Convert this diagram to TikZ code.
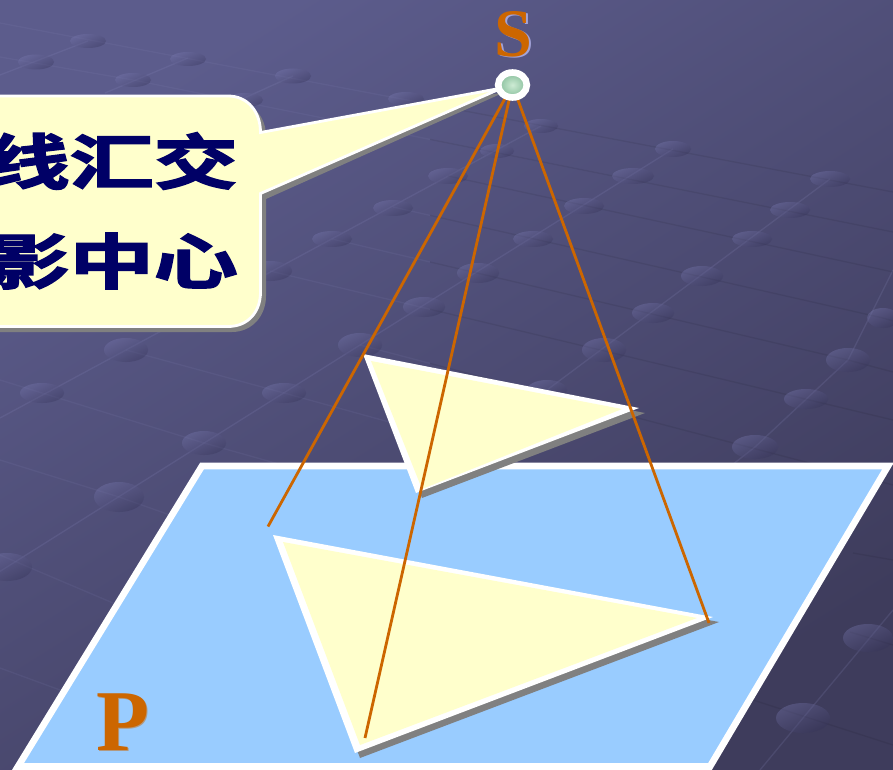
\documentclass[tikz,border=0pt]{standalone}
\usepackage{graphicx}
\usepackage{fontspec}
\usetikzlibrary{shapes.geometric}
\setmainfont{Liberation Serif}
\newfontfamily\cjk[UprightFont=* Bold,FakeBold=2.4]{Noto Sans CJK SC}
\definecolor{orangeline}{HTML}{CC6600}
\definecolor{paleyellow}{HTML}{FFFFCC}
\definecolor{planeblue}{HTML}{99CCFF}
\definecolor{shadowgray}{HTML}{808080}
\definecolor{navytext}{HTML}{000066}
\definecolor{dotlight}{HTML}{7C7CB4}
\definecolor{dotdark}{HTML}{323054}
\definecolor{diagline}{HTML}{8A8ABE}
\tikzset{
  bgdot/.style={top color=dotlight,bottom color=dotdark,shading angle=25,opacity=.36},
  diag/.style={draw=diagline,line width=1pt,opacity=.18},
  lighth/.style={draw=diagline,line width=1pt,opacity=.11},
  darkh/.style={draw=black,line width=1pt,opacity=.07},
  ray/.style={draw=orangeline,line width=2.1pt},
  edge/.style={draw=white,line width=5pt,miter limit=10},
  shadowshape/.style={fill=shadowgray,draw=none},
  lettermark/.style={font=\bfseries,text=orangeline,inner sep=0pt,anchor=center},
  cjkline/.style={font=\cjk\fontsize{45pt}{45pt}\selectfont,text=navytext,inner sep=0pt,anchor=east},
}
\begin{document}
\begin{tikzpicture}[x=0.75pt,y=-0.75pt]
\useasboundingbox (0,0) rectangle (893,770);
\clip (0,0) rectangle (893,770);
% background
\shade[top color={rgb,255:red,92;green,92;blue,140},bottom color={rgb,255:red,62;green,60;blue,92},shading angle=32] (0,0) rectangle (893,770);
% grid
\foreach \p in {
 {(0,75)--(88,41)},{(105,93)--(188,58)},{(240,100)--(293,76)},
 {(541,126)--(126,350)--(0,418)},{(673,149)--(360,345)--(7,567)--(-20,584)},
 {(830,179)--(547,390)--(500,425)},{(893,270)--(848,360)--(755,447)--(700,490)},
 {(893,610)--(803,718)--(760,770)}}{
   \draw[diag] \p;}
\begin{scope}
\clip (0,0) rectangle (430,770);
\foreach \p in {
 {(0,23)--(893,192)},{(0,57)--(133,80)--(893,232)},{(448,176)--(893,272)},{(393,207)--(883,318)},
 {(332,239)--(848,360)},{(270,271)--(893,420)},{(126,350)--(284,393)--(400,425)},{(360,345)--(893,485)},
 {(0,380)--(42,393)--(204,443)--(300,470)},{(0,460)--(119,497)--(170,515)},{(0,555)--(113,603)},{(0,668)--(60,690)}}{
   \draw[lighth] \p;}
\end{scope}
\begin{scope}
\clip (430,0) rectangle (893,770);
\foreach \p in {
 {(0,23)--(893,192)},{(0,57)--(133,80)--(893,232)},{(448,176)--(893,272)},{(393,207)--(883,318)--(893,321)},
 {(332,239)--(848,360)--(893,372)},{(270,271)--(893,420)},{(360,345)--(893,485)},
 {(853,553)--(893,560)},{(850,632)--(893,645)},{(753,700)--(893,745)}}{
   \draw[darkh] \p;}
\end{scope}
\foreach \x/\y/\rx/\ry in {
 88/41/18/7,36/62/18/7.5,188/59/18/7,133/80/18/7,293/76/18/7.5,406/99/18/7,
 245/100/18/7,
 541/126/17/7,497/151/17/7,448/176/20/8,393/208/20/8,332/239/20/8,270/271/22/10,
 126/350/22/12,42/393/22/10,
 673/149/18/8,633/176/21/8,584/206/20/8,533/239/20/8,478/273/21/10,424/307/21/10,360/345/22/12,
 284/393/22/10,204/443/22/12,119/497/25/15,7/567/25/14,
 830/179/20/8,790/210/20/8,752/239/20/8,702/276/21/10,653/313/21/10,604/350/22/12,547/390/20/10,
 883/318/16/10,848/360/22/12,806/399/22/10,755/447/23/12,
 868/638/25/14,803/718/27/15}{
   \shade[bgdot] (\x,\y) ellipse[x radius=\rx*0.75pt,y radius=\ry*0.75pt];
}
% callout
\path[shadowshape] (-30,101) -- (232,101) .. controls (252,101) and (266,116) .. (266,136)
  -- (505,92) -- (266,199) -- (266,296) .. controls (266,316) and (252,332) .. (232,332) -- (-30,332) -- cycle;
\path[draw=white,line width=2.1pt,fill=paleyellow] (-30,96) -- (228,96) .. controls (248,96) and (260.5,112) .. (260.5,132.5)
  -- (502,88) -- (260.5,193.5) -- (260.5,292) .. controls (260.5,312) and (248,326.5) .. (228,326.5) -- (-30,326.5) -- cycle;
\node[cjkline] (line1) at (238,161) {\scalebox{1.4}[1]{线汇交}};
\node[cjkline] (line2) at (238,261) {\scalebox{1.4}[1]{影中心}};
% plane
\path[edge,fill=planeblue] (202,466) -- (888,466) -- (710,766.5) -- (18,766.5) -- cycle;
% upper triangle
\path[shadowshape] (369,359) -- (645,413) -- (422,498) -- cycle;
\path[fill=white] (363,354) -- (639,408) -- (416,493) -- cycle;
\path[fill=paleyellow] (371,361) -- (622,409) -- (422,489) -- cycle;
% lower triangle
\path[shadowshape] (279,540) -- (719,622) -- (360,758) -- cycle;
\path[fill=white] (273,535) -- (713,617) -- (355,753) -- cycle;
\path[fill=paleyellow] (283,542) -- (697,618) -- (360,745) -- cycle;
% labels
\node[lettermark,text=white!70!blue!70!gray,font=\bfseries\fontsize{51pt}{51pt}\selectfont] at (515,35.5) {S};
\node[lettermark,font=\bfseries\fontsize{51pt}{51pt}\selectfont] (S) at (513.5,34) {S};
\node[lettermark,text=orangeline!50!planeblue,font=\bfseries\fontsize{65pt}{65pt}\selectfont] at (124,723.5) {P};
\node[lettermark,font=\bfseries\fontsize{65pt}{65pt}\selectfont] (P) at (122.5,722.5) {P};
% rays
\coordinate (a) at (268,526.5);
\coordinate (b) at (365,738);
\coordinate (c) at (709,623);
\coordinate (sc) at (512.5,85);
\draw[ray] (sc) -- (a);
\draw[ray] (sc) -- (b);
\draw[ray] (sc) -- (c);
% centre point
\node[ellipse,draw=white,line width=5pt,inner color={rgb,255:red,205;green,235;blue,212},outer color={rgb,255:red,135;green,190;blue,155},minimum width=21.5pt,minimum height=18.7pt,inner sep=0pt] (s) at (sc) {};
\end{tikzpicture}
\end{document}
